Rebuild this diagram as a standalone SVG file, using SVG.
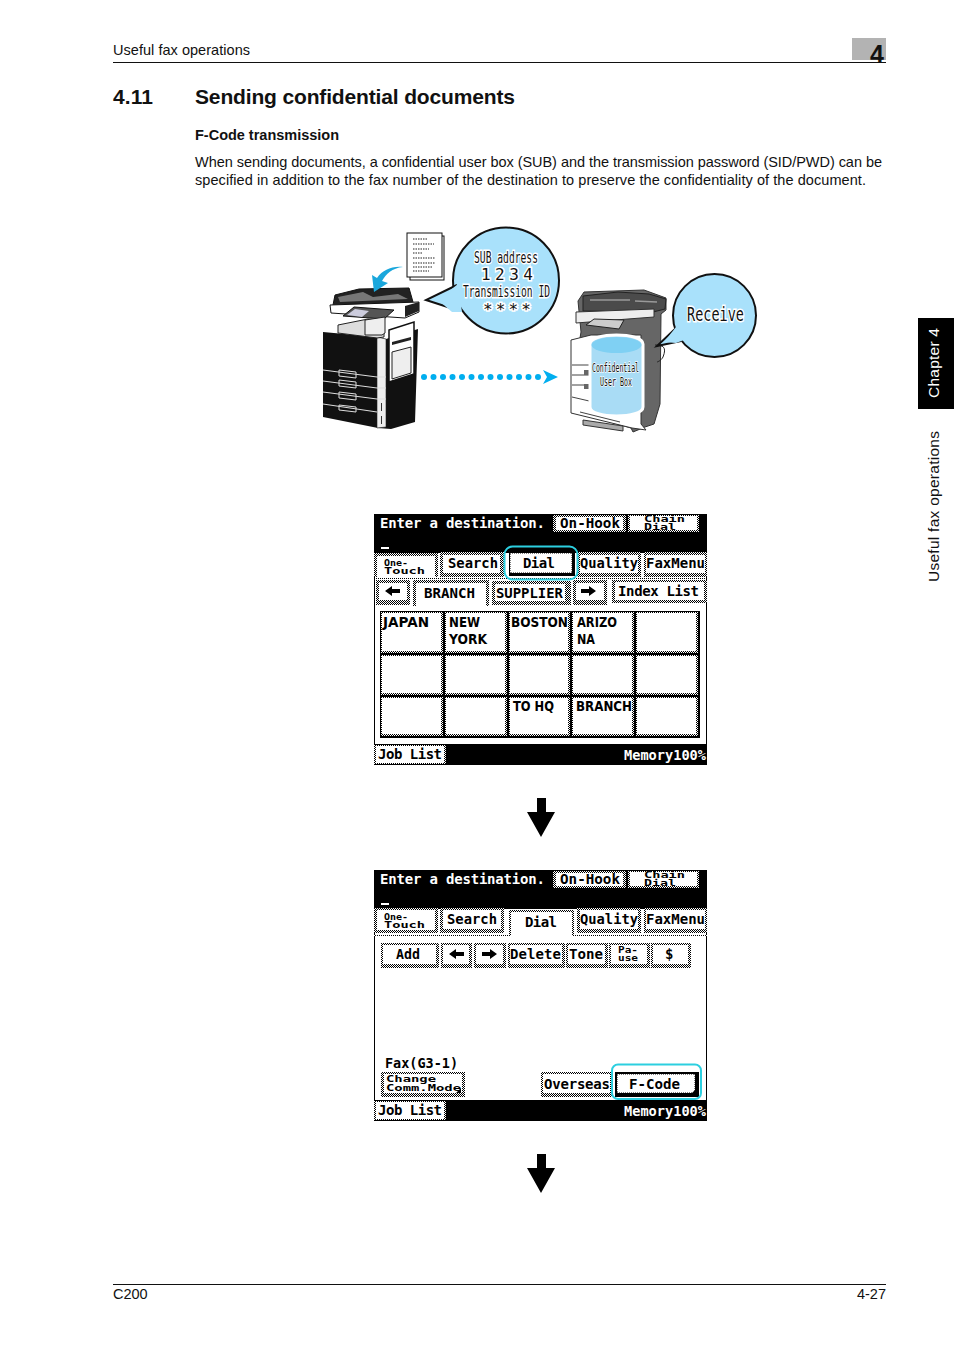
<svg xmlns="http://www.w3.org/2000/svg" width="954" height="1350" viewBox="0 0 954 1350">
<style>
text{font-family:"Liberation Sans",Arial,sans-serif;fill:#111}
.b{font-weight:700}
.lcd{font-family:"DejaVu Sans Mono","Liberation Mono",monospace;font-weight:700;font-size:14px;fill:#000}
.sm{font-size:8px}
.g{font-family:"DejaVu Sans","Liberation Sans",sans-serif;font-weight:700;font-size:13.5px;fill:#000}
.cal{font-family:"DejaVu Sans Mono","Liberation Mono",monospace;fill:#111;stroke:#fff;stroke-width:3px;paint-order:stroke;font-size:16px}
.face{fill:#fff}
.hl{fill:none;stroke:#2ccfe0;stroke-width:2}
.bub{fill:#a9e1fb;stroke:#111;stroke-width:2}
</style>
<defs>
<pattern id="d" width="2" height="2" patternUnits="userSpaceOnUse"><rect width="2" height="2" fill="#fff"/><rect width="1" height="1" fill="#000"/><rect x="1" y="1" width="1" height="1" fill="#000"/></pattern>
<g id="la"><path d="M0 0l7-5v3h8v4h-8v3z" fill="#000"/></g>
<g id="ra"><path d="M15 0l-7-5v3h-8v4h8v3z" fill="#000"/></g>
<path id="down" d="M537 0h9v14h9l-14 25-14-25h10z" fill="#000"/>
<path id="tri" d="M0 5l5-5v5z" fill="#000"/>
</defs>

<g id="header">
<rect x="852" y="38" width="34" height="22" fill="#b3b3b3"/>
<rect x="113" y="62" width="773" height="1" fill="#111"/>
<text x="113" y="55" font-size="14.500" textLength="137">Useful fax operations</text>
<text x="870" y="63" font-size="25" class="b">4</text>
</g>
<g id="heading">
<text x="113" y="104" font-size="21" class="b" textLength="40">4.11</text>
<text x="195" y="104" font-size="21" class="b" textLength="320">Sending confidential documents</text>
<text x="195" y="140" font-size="14.500" class="b" textLength="144">F-Code transmission</text>
<text x="195" y="167" font-size="14.500" textLength="687">When sending documents, a confidential user box (SUB) and the transmission password (SID/PWD) can be</text>
<text x="195" y="185" font-size="14.500" textLength="671">specified in addition to the fax number of the destination to preserve the confidentiality of the document.</text>
</g>
<g id="side-tab">
<rect x="918" y="318" width="36" height="91" fill="#000"/>
<text transform="translate(938.500 398) rotate(-90)" font-size="15.500" style="fill:#fff" textLength="70">Chapter 4</text>
<text transform="translate(938.500 582) rotate(-90)" font-size="15.500" textLength="151">Useful fax operations</text>
</g>

<g id="sender-printer">
<path d="M323 332l54 5 9 2 32-10-3 93-24 7-13-1-55-11z" fill="#111"/>
<path d="M377 337l9 2 0 88-9 1z" fill="#eee" stroke="#222" stroke-width=".6"/>
<path d="M389 330l25-8 0 52-25 8z" fill="#fff" stroke="#111" stroke-width="1.500"/>
<path d="M392 342l19-5 0 3-19 5z" fill="#222"/>
<path d="M392 352l19-5 0 26-19 6z" fill="#eee" stroke="#222"/>
<path d="M333 305l2-10 24-6 50-1 4 14-2 5-75 3z" fill="#222" stroke="#111"/>
<path d="M338 297l25-5 10 5 25-3 10 5-68 3z" fill="#777"/>
<path d="M330 305l89-3 0 10-14 6-74-5z" fill="#fff" stroke="#111"/>
<path d="M405 306l14-4v9l-14 6z" fill="#222"/>
<path d="M343 316l11-9 40 3-10 9z" fill="#555" stroke="#111"/>
<path d="M347 315l8-6 14 2-7 6z" fill="#ccd"/>
<path d="M338 325l30-6 16 2 0 16-7 1-39-5z" fill="#ddd" stroke="#222"/>
<path d="M365 320l20-3 0 16-3 2-17 0z" fill="#eee" stroke="#222"/>
<g fill="none" stroke="#ddd" stroke-width="1">
<path d="M323 370l54 7 9 0"/><path d="M323 381l54 7 9 0"/><path d="M323 392l54 7 9 0"/><path d="M323 404l54 8"/>
<path d="M339 370l17 2 0 6-17-2z"/><path d="M339 380l17 2 0 6-17-2z"/><path d="M339 392l17 2 0 6-17-2z"/><path d="M339 405l17 2 0 5-17-2z"/>
</g>
<rect x="381" y="403" width="1" height="8" fill="#333"/><rect x="381" y="416" width="1" height="8" fill="#333"/>
</g>

<g id="document">
<rect x="410" y="236" width="34" height="44" fill="#fff" stroke="#111"/>
<rect x="407" y="233" width="35" height="44" fill="#fff" stroke="#111"/>
<path d="M413 239h15M413 244h21M413 249h16M413 253h10M413 258h22M413 263h22M413 267h20M413 271h16" stroke="#222" stroke-width="1.200" stroke-dasharray="1.500 1"/>
</g>
<path id="doc-feed-arrow" d="M403 267c-11 1-17 7-21 14l6 2-14 9-2-17 5 3c6-8 14-12 26-11z" fill="#1aa7dc"/>

<g id="bubble-send">
<circle class="bub" cx="506" cy="280.500" r="53"/>
<path d="M457 285L426 300 460 311" class="bub"/>
<path d="M458 284l4 28-10 0-14-12z" fill="#a9e1fb"/>
<text class="cal" x="474" y="263" textLength="64" lengthAdjust="spacingAndGlyphs">SUB address</text>
<text class="cal" x="481" y="280" textLength="52" lengthAdjust="spacing">1234</text>
<text class="cal" x="463" y="297" textLength="87" lengthAdjust="spacingAndGlyphs">Transmission ID</text>
<text class="cal" x="483" y="315" textLength="48" lengthAdjust="spacing">****</text>
</g>

<g id="receiver-printer">
<path d="M578 301l6-9 60-2 22 8 0 12-5 4-1 90-6 20-9 3-12 5-2-4-55-16 0-50 5-30z" fill="#666" stroke="#333"/>
<path d="M583 296l35-4 31 2 17 5-1 10-12 3-70-1z" fill="#4b4b4b" stroke="#222"/>
<path d="M590 300h40M635 301l22 1" stroke="#999" stroke-width="1.500" fill="none"/>
<path d="M576 312l78-3 0 8-78 6z" fill="#eee" stroke="#333"/>
<path d="M586 325l8-6 30 1-5 9z" fill="#ccc" stroke="#222"/>
<path d="M571 340l20-5 50 0 0 72 0 17 5 6-14-2-61-15z" fill="#fff" stroke="#333"/>
<path d="M572 365h20M572 375h20M572 385h20M572 397l60 14M580 412l40 10" stroke="#444" stroke-width="1" fill="none"/>
<path d="M583 420l40 6v5l-40-6z" fill="#aaa" stroke="#333"/>
<rect x="584" y="370" width="5" height="5" fill="#666"/><rect x="584" y="384" width="5" height="5" fill="#666"/>
<path d="M655 345c8 0 12 2 8 12-2 4-6 5-6 5" fill="none" stroke="#222" stroke-width="1"/>
</g>

<g id="confidential-box">
<path d="M590 344c0-12 53-12 53 0v63c0 12-53 12-53 0z" fill="#a9dcf5" stroke="#fff" stroke-width="3"/>
<ellipse cx="616.500" cy="345" rx="25" ry="8" fill="#7fd0f3"/>
<text class="cal" x="592" y="372" textLength="47" lengthAdjust="spacingAndGlyphs" style="font-size:12px;stroke-width:1.500px">Confidential</text>
<text class="cal" x="600" y="386" textLength="32" lengthAdjust="spacingAndGlyphs" style="font-size:12px;stroke-width:1.500px">User Box</text>
</g>

<g id="bubble-receive">
<circle class="bub" cx="714.500" cy="315.500" r="41.500"/>
<path d="M675 329L657 346 681 341" class="bub"/>
<path d="M676 327l8 13-8 3-12-1z" fill="#a9e1fb"/>
<text class="cal" x="687" y="321" textLength="57" lengthAdjust="spacingAndGlyphs" style="font-size:19px">Receive</text>
</g>

<g id="connectors">
<g id="fax-line" fill="#00aeef">
<circle cx="424" cy="377" r="3"/><circle cx="433.500" cy="377" r="3"/><circle cx="443" cy="377" r="3"/><circle cx="452.500" cy="377" r="3"/><circle cx="462" cy="377" r="3"/><circle cx="471.500" cy="377" r="3"/><circle cx="481" cy="377" r="3"/><circle cx="490.500" cy="377" r="3"/><circle cx="500" cy="377" r="3"/><circle cx="509.500" cy="377" r="3"/><circle cx="519" cy="377" r="3"/><circle cx="528.500" cy="377" r="3"/><circle cx="538" cy="377" r="3"/>
<path d="M543 370l15 7-15 7 4-7z"/>
</g>
<use href="#down" y="798"/>
<use href="#down" y="1154"/>
</g>

<g id="screen-1">
<rect x="374.500" y="514.500" width="332" height="250" fill="#fff" stroke="#000"/>
<rect x="374" y="514" width="333" height="39" fill="#000"/>
<rect x="374" y="744" width="333" height="21" fill="#000"/>
<text class="lcd" x="380" y="528" textLength="165" lengthAdjust="spacing" style="fill:#fff">Enter a destination.</text>
<rect x="381" y="547" width="8" height="2" fill="#fff"/>
<g id="s1-onhook"><rect x="553" y="515" width="73" height="17" fill="url(#d)"/><rect x="556" y="517" width="67" height="13" class="face"/><text class="lcd" x="560" y="528" textLength="60" lengthAdjust="spacingAndGlyphs">On-Hook</text></g>
<g id="s1-chain"><rect x="628" y="515" width="71" height="17" fill="url(#d)"/><rect x="630" y="516" width="67" height="14" class="face"/><text class="lcd sm" x="644" y="521.500" textLength="41" lengthAdjust="spacingAndGlyphs">Chain</text><text class="lcd sm" x="644" y="530" textLength="32" lengthAdjust="spacingAndGlyphs">Dial</text></g>
<g id="s1-onetouch"><rect x="374" y="553" width="64" height="24" fill="url(#d)"/><rect x="377" y="556" width="58" height="21" class="face"/><text class="lcd sm" x="384" y="565.500" textLength="24" lengthAdjust="spacingAndGlyphs">One-</text><text class="lcd sm" x="384" y="574" textLength="41" lengthAdjust="spacingAndGlyphs">Touch</text></g>
<g id="s1-search"><rect x="440" y="552" width="64" height="25" fill="url(#d)"/><rect x="443" y="555" width="57" height="18" class="face"/><text class="lcd" x="448" y="568" textLength="50" lengthAdjust="spacingAndGlyphs">Search</text></g>
<g id="s1-quality"><rect x="577" y="552" width="64" height="25" fill="url(#d)"/><rect x="580" y="555" width="58" height="18" class="face"/><text class="lcd" x="580" y="568" textLength="58" lengthAdjust="spacingAndGlyphs">Quality</text></g>
<g id="s1-faxmenu"><rect x="644" y="552" width="63" height="25" fill="url(#d)"/><rect x="646" y="555" width="59" height="18" class="face"/><text class="lcd" x="646" y="568" textLength="59" lengthAdjust="spacingAndGlyphs">FaxMenu</text></g>
<rect x="374" y="578" width="333" height="1" fill="url(#d)"/>
<g id="s1-prev"><rect x="376" y="580" width="34" height="25" fill="url(#d)"/><rect x="379" y="583" width="28" height="17" class="face"/><use href="#la" x="385" y="591"/></g>
<g id="s1-branch"><rect x="413" y="580" width="76" height="26" fill="url(#d)"/><rect x="416" y="583" width="70" height="23" class="face"/><text class="lcd" x="424" y="598" textLength="51" lengthAdjust="spacingAndGlyphs">BRANCH</text></g>
<g id="s1-supplier"><rect x="492" y="581" width="79" height="24" fill="url(#d)"/><rect x="495" y="584" width="70" height="17" class="face"/><text class="lcd" x="496" y="598" textLength="67" lengthAdjust="spacingAndGlyphs">SUPPLIER</text></g>
<g id="s1-next"><rect x="573" y="580" width="34" height="25" fill="url(#d)"/><rect x="576" y="583" width="28" height="17" class="face"/><use href="#ra" x="581" y="591"/></g>
<g id="s1-index"><rect x="612" y="580" width="95" height="23" fill="url(#d)"/><rect x="615" y="582" width="89" height="18" class="face"/><text class="lcd" x="618" y="596" textLength="81" lengthAdjust="spacing">Index List</text></g>
<g id="s1-dial"><rect x="509" y="552" width="66" height="24" fill="#000"/><rect x="510" y="553" width="62" height="20" class="face" stroke="#000" stroke-dasharray="1 1"/><text class="lcd" x="523" y="568" textLength="32" lengthAdjust="spacing">Dial</text><rect class="hl" x="504.500" y="546.500" width="73" height="33" rx="8"/></g>
<g id="s1-grid">
<rect x="380" y="611" width="320" height="127" fill="#000"/>
<g fill="url(#d)">
<rect x="381" y="612" width="62" height="41"/><rect x="445" y="612" width="62" height="41"/><rect x="509" y="612" width="61" height="41"/><rect x="572" y="612" width="62" height="41"/><rect x="636" y="612" width="62" height="41"/>
<rect x="381" y="655" width="62" height="40"/><rect x="445" y="655" width="62" height="40"/><rect x="509" y="655" width="61" height="40"/><rect x="572" y="655" width="62" height="40"/><rect x="636" y="655" width="62" height="40"/>
<rect x="381" y="697" width="62" height="39"/><rect x="445" y="697" width="62" height="39"/><rect x="509" y="697" width="61" height="39"/><rect x="572" y="697" width="62" height="39"/><rect x="636" y="697" width="62" height="39"/>
</g>
<g fill="#fff">
<rect x="382" y="613" width="59" height="38"/><rect x="446" y="613" width="59" height="38"/><rect x="510" y="613" width="58" height="38"/><rect x="573" y="613" width="59" height="38"/><rect x="637" y="613" width="59" height="38"/>
<rect x="382" y="656" width="59" height="37"/><rect x="446" y="656" width="59" height="37"/><rect x="510" y="656" width="58" height="37"/><rect x="573" y="656" width="59" height="37"/><rect x="637" y="656" width="59" height="37"/>
<rect x="382" y="698" width="59" height="36"/><rect x="446" y="698" width="59" height="36"/><rect x="510" y="698" width="58" height="36"/><rect x="573" y="698" width="59" height="36"/><rect x="637" y="698" width="59" height="36"/>
</g>
<text class="g" x="383" y="627" textLength="46" lengthAdjust="spacingAndGlyphs">JAPAN</text>
<text class="g" x="449" y="627" textLength="31" lengthAdjust="spacingAndGlyphs">NEW</text>
<text class="g" x="449" y="644" textLength="38" lengthAdjust="spacingAndGlyphs">YORK</text>
<text class="g" x="511" y="627" textLength="57" lengthAdjust="spacingAndGlyphs">BOSTON</text>
<text class="g" x="577" y="627" textLength="40" lengthAdjust="spacingAndGlyphs">ARIZO</text>
<text class="g" x="577" y="644" textLength="18" lengthAdjust="spacingAndGlyphs">NA</text>
<text class="g" x="513" y="711" textLength="41" lengthAdjust="spacingAndGlyphs">TO HQ</text>
<text class="g" x="576" y="711" textLength="56" lengthAdjust="spacingAndGlyphs">BRANCH</text>
</g>
<g id="s1-joblist"><rect x="374" y="745" width="72" height="19" fill="url(#d)"/><rect x="376" y="746" width="68" height="17" class="face"/><text class="lcd" x="378" y="759" textLength="64" lengthAdjust="spacing">Job List</text></g>
<text class="lcd" x="624" y="760" textLength="82" lengthAdjust="spacingAndGlyphs" style="fill:#fff">Memory100%</text>
</g>

<g id="screen-2">
<rect x="374.500" y="870.500" width="332" height="250" fill="#fff" stroke="#000"/>
<rect x="374" y="870" width="333" height="39" fill="#000"/>
<rect x="374" y="1100" width="333" height="21" fill="#000"/>
<text class="lcd" x="380" y="884" textLength="165" lengthAdjust="spacing" style="fill:#fff">Enter a destination.</text>
<rect x="381" y="903" width="8" height="2" fill="#fff"/>
<g id="s2-onhook"><rect x="553" y="871" width="73" height="17" fill="url(#d)"/><rect x="556" y="873" width="67" height="13" class="face"/><text class="lcd" x="560" y="884" textLength="60" lengthAdjust="spacingAndGlyphs">On-Hook</text></g>
<g id="s2-chain"><rect x="628" y="871" width="71" height="17" fill="url(#d)"/><rect x="630" y="872" width="67" height="14" class="face"/><text class="lcd sm" x="644" y="877.500" textLength="41" lengthAdjust="spacingAndGlyphs">Chain</text><text class="lcd sm" x="644" y="886" textLength="32" lengthAdjust="spacingAndGlyphs">Dial</text></g>
<rect x="374" y="935" width="333" height="1" fill="url(#d)"/>
<g id="s2-onetouch"><rect x="374" y="908" width="64" height="25" fill="url(#d)"/><rect x="377" y="910" width="58" height="20" class="face"/><text class="lcd sm" x="384" y="919.500" textLength="24" lengthAdjust="spacingAndGlyphs">One-</text><text class="lcd sm" x="384" y="928" textLength="41" lengthAdjust="spacingAndGlyphs">Touch</text></g>
<g id="s2-search"><rect x="440" y="908" width="64" height="25" fill="url(#d)"/><rect x="443" y="910" width="58" height="19" class="face"/><text class="lcd" x="447" y="924" textLength="50" lengthAdjust="spacingAndGlyphs">Search</text></g>
<g id="s2-dial"><rect x="509" y="910" width="65" height="26" fill="url(#d)"/><rect x="511" y="912" width="61" height="24" class="face"/><text class="lcd" x="525" y="927" textLength="32" lengthAdjust="spacing">Dial</text></g>
<g id="s2-quality"><rect x="577" y="908" width="64" height="25" fill="url(#d)"/><rect x="580" y="910" width="58" height="19" class="face"/><text class="lcd" x="580" y="924" textLength="58" lengthAdjust="spacingAndGlyphs">Quality</text></g>
<g id="s2-faxmenu"><rect x="644" y="908" width="63" height="25" fill="url(#d)"/><rect x="646" y="910" width="59" height="19" class="face"/><text class="lcd" x="646" y="924" textLength="59" lengthAdjust="spacingAndGlyphs">FaxMenu</text></g>
<g id="s2-add"><rect x="381" y="943" width="58" height="25" fill="url(#d)"/><rect x="383" y="945" width="53" height="19" class="face"/><text class="lcd" x="396" y="959" textLength="24" lengthAdjust="spacingAndGlyphs">Add</text></g>
<g id="s2-left"><rect x="441" y="943" width="31" height="25" fill="url(#d)"/><rect x="443" y="945" width="26" height="19" class="face"/><use href="#la" x="449" y="954"/></g>
<g id="s2-right"><rect x="474" y="943" width="32" height="25" fill="url(#d)"/><rect x="476" y="945" width="27" height="19" class="face"/><use href="#ra" x="482" y="954"/></g>
<g id="s2-delete"><rect x="508" y="943" width="57" height="25" fill="url(#d)"/><rect x="510" y="945" width="52" height="19" class="face"/><text class="lcd" x="510" y="959" textLength="51" lengthAdjust="spacing">Delete</text></g>
<g id="s2-tone"><rect x="566" y="943" width="42" height="25" fill="url(#d)"/><rect x="568" y="945" width="37" height="19" class="face"/><text class="lcd" x="569" y="959" textLength="34" lengthAdjust="spacingAndGlyphs">Tone</text></g>
<g id="s2-pause"><rect x="609" y="943" width="41" height="25" fill="url(#d)"/><rect x="611" y="945" width="36" height="19" class="face"/><text class="lcd sm" x="618" y="952.500" textLength="20" lengthAdjust="spacingAndGlyphs">Pa-</text><text class="lcd sm" x="618" y="961" textLength="20" lengthAdjust="spacingAndGlyphs">use</text></g>
<g id="s2-dollar"><rect x="651" y="943" width="40" height="25" fill="url(#d)"/><rect x="653" y="945" width="35" height="19" class="face"/><text class="lcd" x="665" y="959">$</text></g>
<text class="lcd" x="385" y="1068" textLength="73" lengthAdjust="spacingAndGlyphs">Fax(G3-1)</text>
<g id="s2-change"><rect x="381" y="1072" width="84" height="25" fill="url(#d)"/><rect x="384" y="1074" width="78" height="19" class="face"/><text class="lcd sm" x="386" y="1082" textLength="50" lengthAdjust="spacingAndGlyphs">Change</text><text class="lcd sm" x="386" y="1091" textLength="75" lengthAdjust="spacingAndGlyphs">Comm.Mode</text><use href="#tri" x="456" y="1088"/></g>
<g id="s2-overseas"><rect x="541" y="1072" width="71" height="25" fill="url(#d)"/><rect x="543" y="1074" width="67" height="19" class="face"/><text class="lcd" x="544" y="1089" textLength="66" lengthAdjust="spacing">Overseas</text></g>
<g id="s2-fcode"><rect x="615" y="1072" width="84" height="25" fill="#000"/><rect x="617" y="1074" width="78" height="19" class="face" stroke="#000" stroke-dasharray="1 1"/><text class="lcd" x="629" y="1089" textLength="51" lengthAdjust="spacingAndGlyphs">F-Code</text><use href="#tri" x="691" y="1089"/><rect class="hl" x="612" y="1064.500" width="89" height="34.500" rx="6"/></g>
<g id="s2-joblist"><rect x="374" y="1101" width="72" height="19" fill="url(#d)"/><rect x="376" y="1102" width="68" height="17" class="face"/><text class="lcd" x="378" y="1115" textLength="64" lengthAdjust="spacing">Job List</text></g>
<text class="lcd" x="624" y="1116" textLength="82" lengthAdjust="spacingAndGlyphs" style="fill:#fff">Memory100%</text>
</g>

<g id="footer">
<rect x="113" y="1284" width="773" height="1" fill="#111"/>
<text x="113" y="1299" font-size="14.500">C200</text>
<text x="886" y="1299" font-size="14.500" text-anchor="end">4-27</text>
</g>
</svg>
